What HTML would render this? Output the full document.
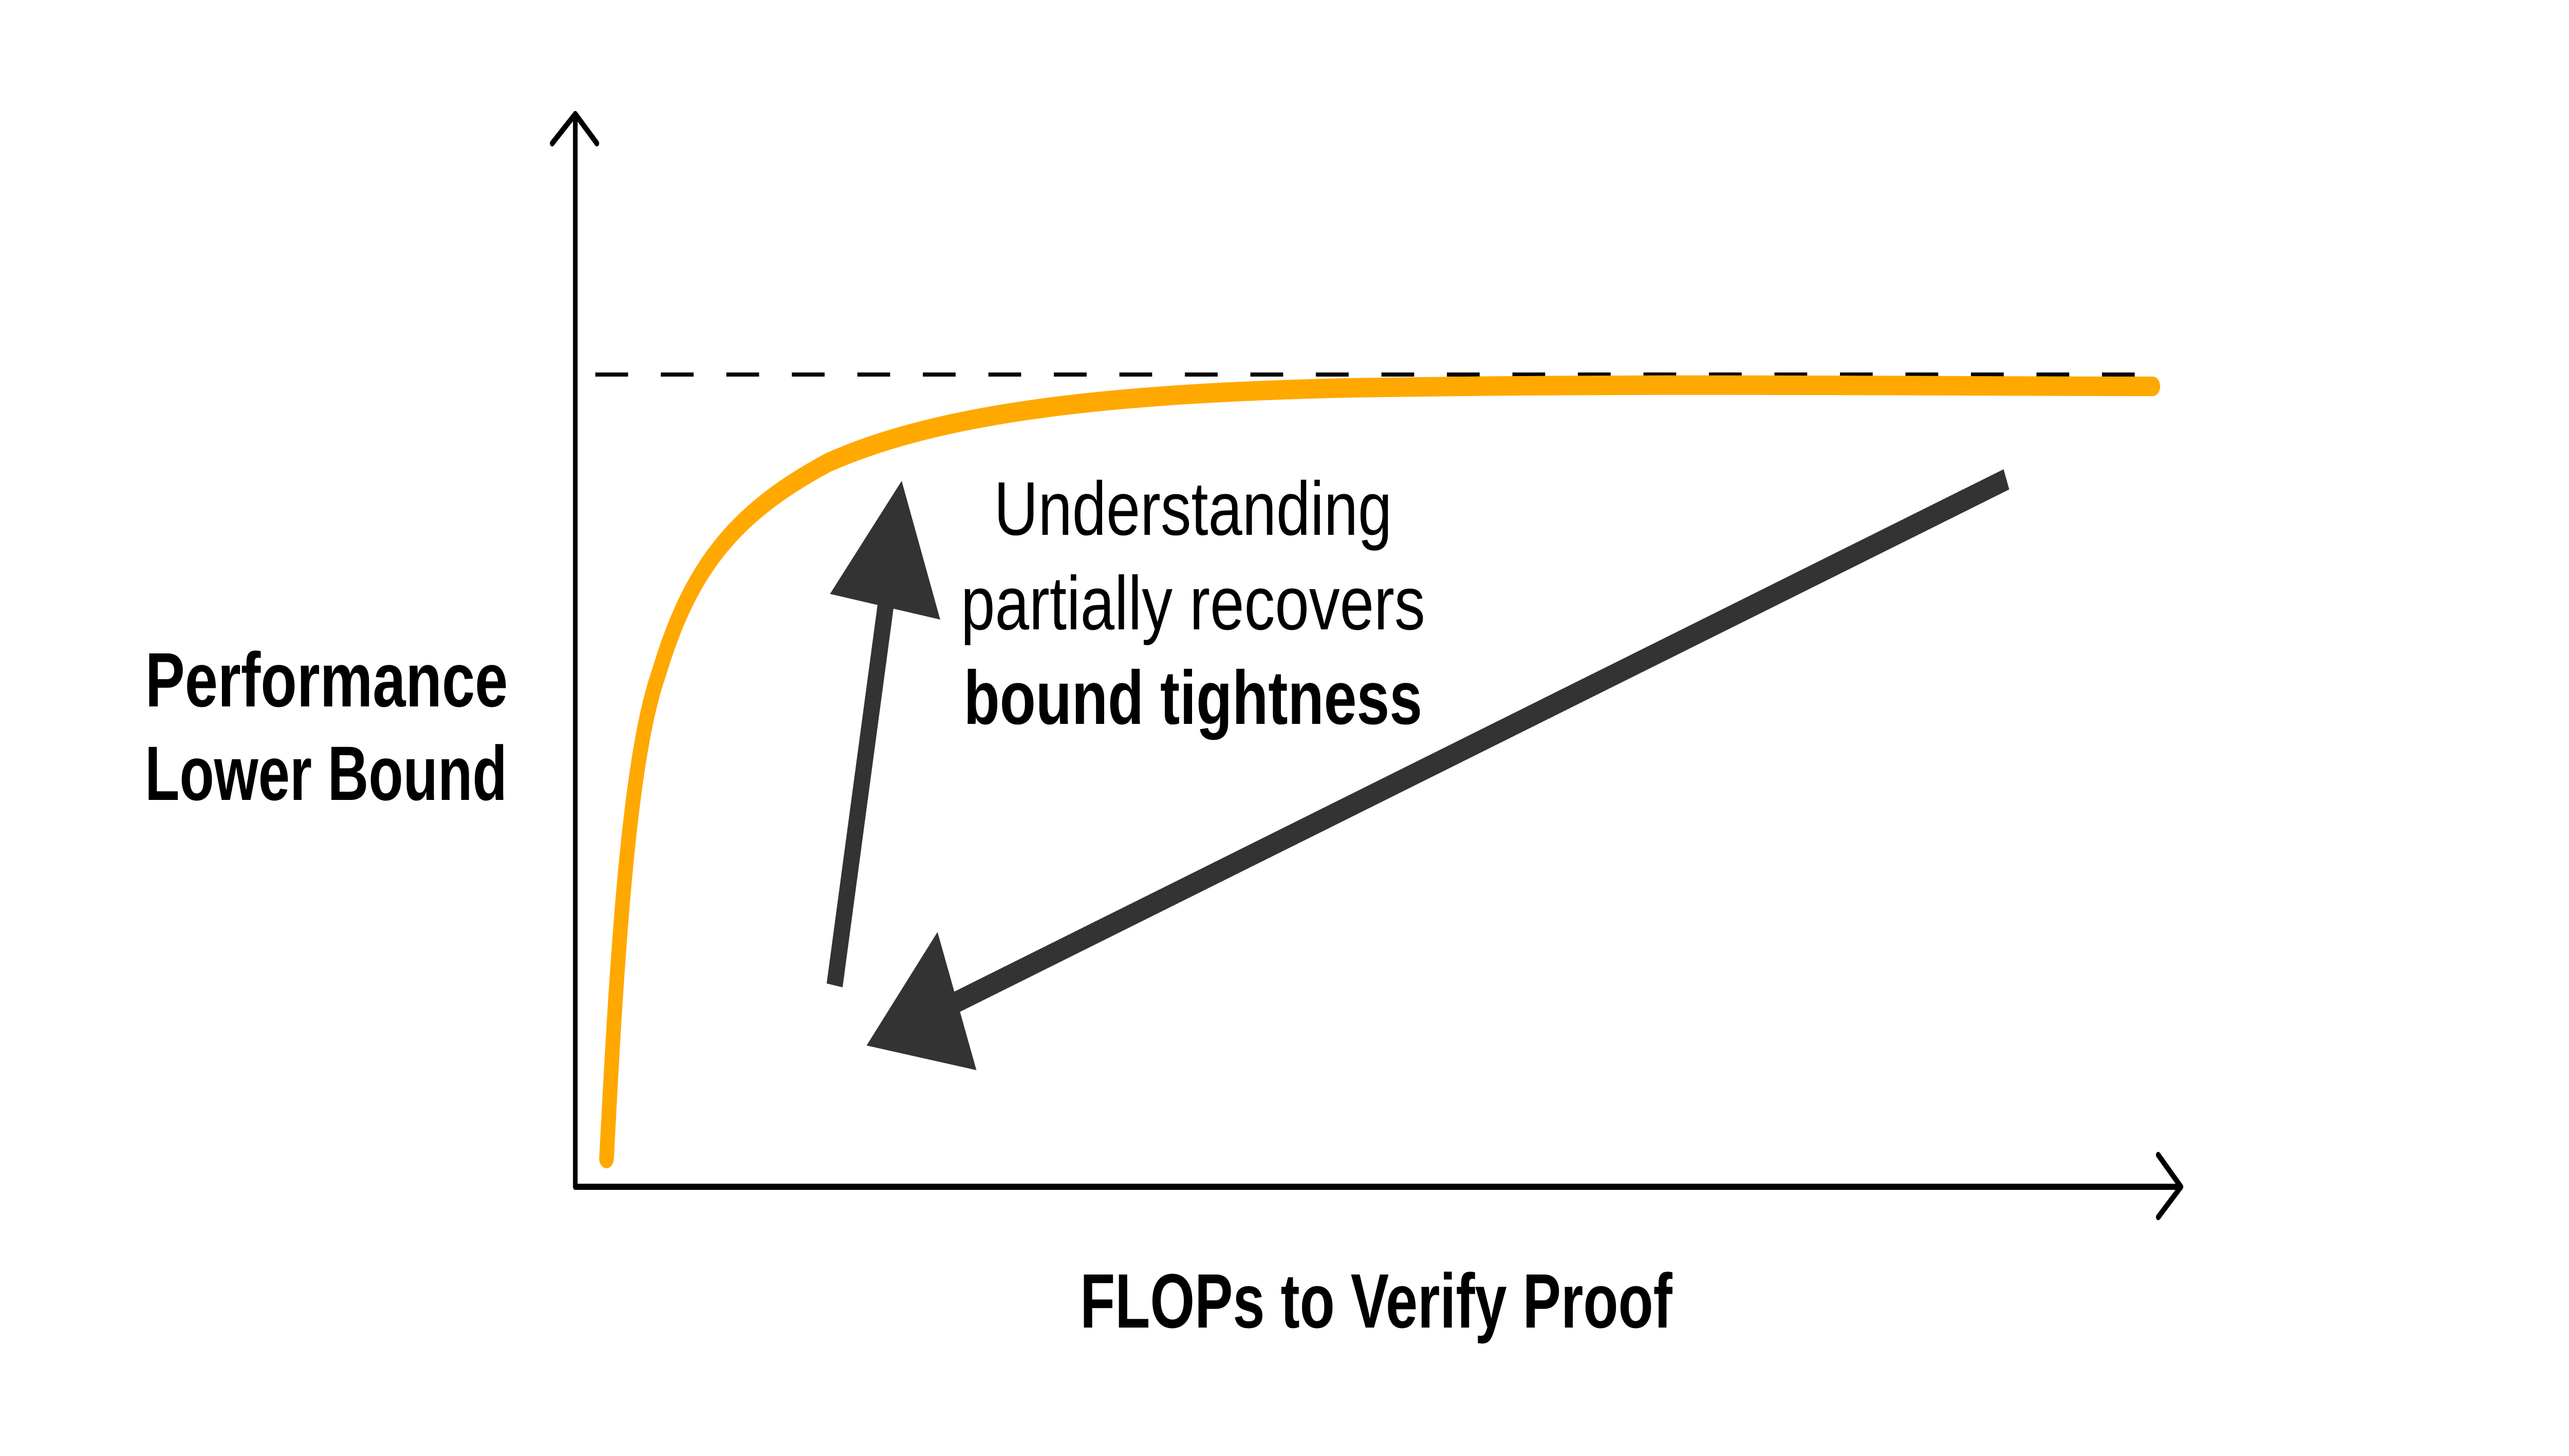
<!DOCTYPE html>
<html><head><meta charset="utf-8"><style>
html,body{margin:0;padding:0;background:#fff;width:100%;height:100%;overflow:hidden;}
svg{display:block;position:absolute;left:0;top:0;width:100vw;height:100vh;}
</style></head><body>
<svg viewBox="0 0 6667 2834" preserveAspectRatio="none" xmlns="http://www.w3.org/2000/svg">
<rect width="6667" height="2834" fill="#fff"/>
<line x1="1500" y1="729" x2="5566" y2="729" stroke="#000" stroke-width="8" stroke-dasharray="85 85" stroke-dashoffset="-45"/>
<path d="M1574,2255 C1600,1880 1630,1480 1710,1310 C1790,1110 1900,1000 2150,900 C2450,800 2900,765 3500,755 C4300,745 5000,752 5587,752" fill="none" stroke="#FFA800" stroke-width="38" stroke-linecap="round"/>
<path d="M1493,2310 L1493,222 M1433,279 L1493,222 L1549,279" fill="none" stroke="#000" stroke-width="12" stroke-linecap="round" stroke-linejoin="round"/>
<path d="M1493,2310 L5660,2310 M5601,2248 L5660,2310 L5601,2369" fill="none" stroke="#000" stroke-width="12" stroke-linecap="round" stroke-linejoin="round"/>
<line x1="2166" y1="1918" x2="2300" y2="1170" stroke="#333" stroke-width="42"/>
<polygon points="2340,936 2154,1156 2440,1206" fill="#333"/>
<line x1="5207" y1="933" x2="2470" y2="1955" stroke="#333" stroke-width="42"/>
<polygon points="2249,2035 2433,1814 2534,2083" fill="#333"/>
<g font-family="Liberation Sans, sans-serif" fill="#000">
<text x="3096" y="1041" font-size="148" text-anchor="middle" textLength="1033" lengthAdjust="spacingAndGlyphs">Understanding</text>
<text x="3096" y="1225" font-size="148" text-anchor="middle" textLength="1205" lengthAdjust="spacingAndGlyphs">partially recovers</text>
<text x="3096" y="1409" font-size="148" font-weight="bold" text-anchor="middle" textLength="1190" lengthAdjust="spacingAndGlyphs">bound tightness</text>
<text x="377" y="1375" font-size="150" font-weight="bold" textLength="941" lengthAdjust="spacingAndGlyphs">Performance</text>
<text x="376" y="1557" font-size="150" font-weight="bold" textLength="940" lengthAdjust="spacingAndGlyphs">Lower Bound</text>
<text x="2803" y="2584" font-size="150" font-weight="bold" textLength="1537" lengthAdjust="spacingAndGlyphs">FLOPs to Verify Proof</text>
</g>
</svg>
</body></html>
